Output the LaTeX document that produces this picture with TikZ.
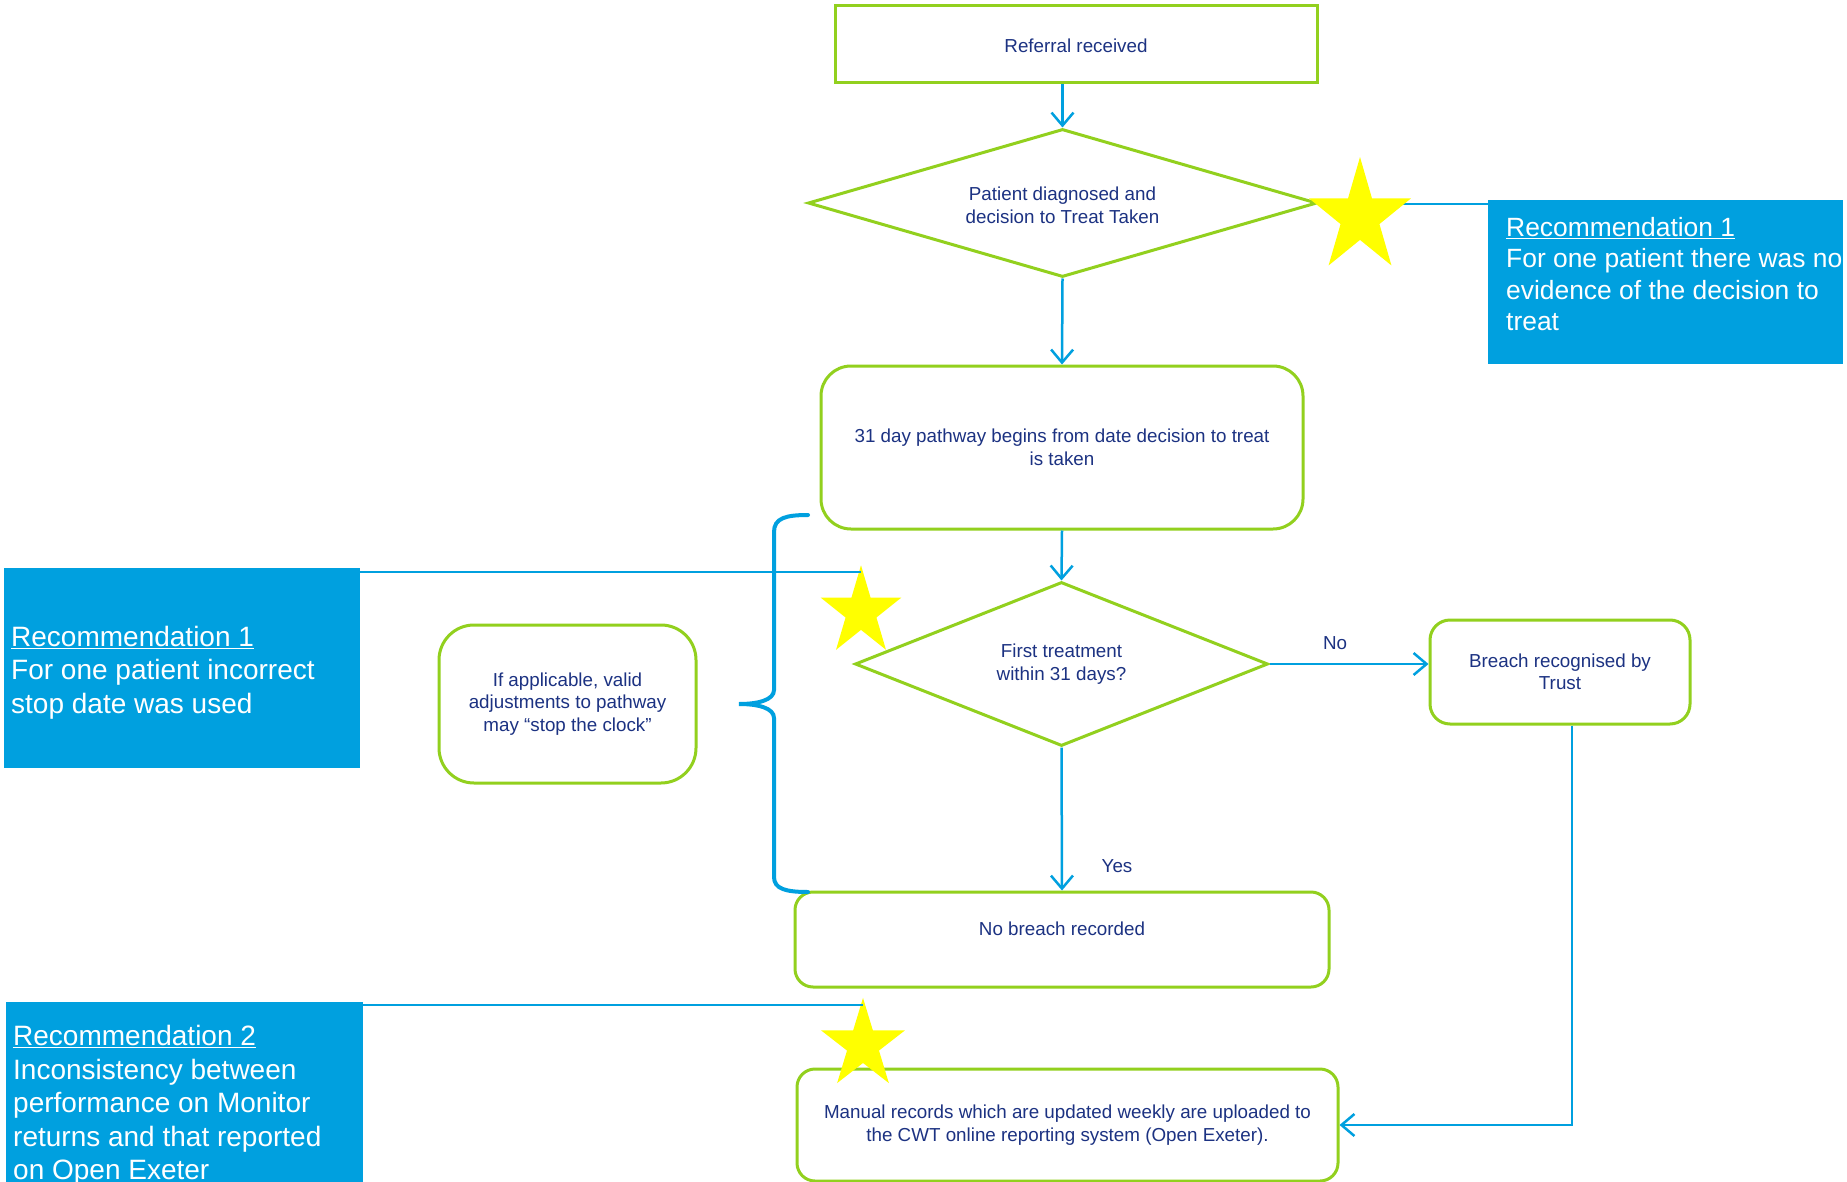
\documentclass[tikz,border=0pt]{standalone}
\usepackage{fontspec}
\setmainfont{Liberation Sans}
\usetikzlibrary{shapes.geometric,arrows.meta}
\definecolor{flowgreen}{RGB}{146,208,30}
\definecolor{recblue}{RGB}{0,160,223}
\definecolor{navy}{RGB}{28,50,130}
\definecolor{staryellow}{RGB}{255,255,0}
\tikzset{
  flowtext/.style={text=navy, font=\fontsize{18.8}{22.5}\selectfont, align=center},
  flowbox/.style={draw=flowgreen, line width=3pt, flowtext, inner sep=0pt, rectangle},
  roundbox/.style={flowbox, rounded corners=#1},
  decision/.style={diamond, draw=flowgreen, line width=3pt, flowtext, inner sep=0pt},
  recbox/.style={fill=recblue, draw=none, inner sep=0pt, rectangle},
  rectext/.style={text=white, align=left, inner sep=0pt, anchor=north west},
  conn/.style={draw=recblue, line width=2.5pt, -{Straight Barb[length=13pt,width=22pt]}},
  recline/.style={draw=recblue, line width=2.5pt},
  starmark/.style={star, star points=5, star point ratio=2.618, fill=staryellow, draw=none, inner sep=0pt, minimum size=#1, transform shape},
}
\begin{document}
\begin{tikzpicture}[x=1pt,y=1pt]
\clip (0,0) rectangle (1847,-1182);
\fill[white] (0,0) rectangle (1847,-1182);

% flow nodes
\node[flowbox, minimum width=482, minimum height=77,
      label={[flowtext, yshift=-1.5pt]center:Referral received}] (ref) at (1076,-44.5) {};
\node[decision, aspect=3.44, minimum width=509, minimum height=148,
      label={[flowtext, yshift=-2.5pt]center:Patient diagnosed and\\decision to Treat Taken}] (d1) at (1062.5,-203) {};
\node[roundbox=30pt, minimum width=482, minimum height=163] (box31) at (1062,-447.5) {31 day pathway begins from date decision to treat\\is taken};
\node[decision, aspect=2.52, minimum width=413, minimum height=164] (d2) at (1061.5,-664) {First treatment\\within 31 days?};
\node[roundbox=20pt, minimum width=260, minimum height=104] (breach) at (1560,-672) {Breach recognised by\\Trust};
\node[roundbox=35pt, minimum width=257, minimum height=158] (stop) at (567.5,-704) {If applicable, valid\\adjustments to pathway\\may “stop the clock”};
\node[roundbox=18pt, minimum width=534, minimum height=95,
      label={[flowtext, yshift=11pt]center:No breach recorded}] (nobreach) at (1062,-939.5) {};
\node[roundbox=18pt, minimum width=541, minimum height=112] (manual) at (1067.5,-1125) {Manual records which are updated weekly are uploaded to\\the CWT online reporting system (Open Exeter).};

% recommendation boxes
\node[recbox, minimum width=355, minimum height=164] (recR) at (1665.5,-282) {};
\node[recbox, minimum width=356, minimum height=200] (recL) at (182,-668) {};
\node[recbox, minimum width=357, minimum height=198] (recB) at (184.5,-1101) {};

\node[rectext, font=\fontsize{26.4}{31.5}\selectfont] (recRt) at (1506,-217)
  {\underline{Recommendation 1}\\For one patient there was no\\evidence of the decision to\\treat};
\node[rectext, font=\fontsize{28}{33.5}\selectfont] (recLt) at (11,-626)
  {\underline{Recommendation 1}\\For one patient incorrect\\stop date was used};
\node[rectext, font=\fontsize{28}{33.6}\selectfont] (recBt) at (13,-1025)
  {\underline{Recommendation 2}\\Inconsistency between\\performance on Monitor\\returns and that reported\\on Open Exeter};

% connectors
\draw[conn] (ref.south -| d1.north) -- (d1.north);
\draw[conn] (d1.south) -- (box31.north);
\draw[conn] (box31.south) -- (d2.north);
\draw[conn] (d2.east) -- (d2.east -| breach.west);
\draw[conn] (d2.south) -- (nobreach.north);
\draw[conn] ([xshift=12pt]breach.south) |- (manual.east);
\node[flowtext, inner sep=0pt] (nolab) at (1335,-643) {No};
\node[flowtext, inner sep=0pt] (yeslab) at (1117,-866) {Yes};

% bracket
\draw[recblue, line width=4pt, line cap=round]
  (808,-515) .. controls (786,-515) and (774,-518) .. (774,-532)
  -- (774,-690) .. controls (774,-700) and (758,-704) .. (739,-704)
  .. controls (758,-704) and (774,-708) .. (774,-718)
  -- (774,-877) .. controls (774,-889) and (786,-892) .. (808,-892);

% lines from recommendation boxes
\draw[recline] ([yshift=-1pt]d1.east) -- ([yshift=-1pt]d1.east -| recR.west);

% stars
\begin{scope}[shift={(1360,-217)}, yscale=1.12]
  \node[starmark=107pt] (s1) at (0,0) {};
\end{scope}
\begin{scope}[shift={(861,-612)}, yscale=1.1]
  \node[starmark=85pt] (s2) at (0,0) {};
\end{scope}
\begin{scope}[shift={(863,-1045)}, yscale=1.07]
  \node[starmark=88pt] (s3) at (0,0) {};
\end{scope}
\draw[recline] ([yshift=-4pt]recL.north east) -- ([yshift=-4pt]recL.north east -| s2.outer point 1);
\draw[recline] ([yshift=-3pt]recB.north east) -- ([yshift=-3pt]recB.north east -| s3.outer point 1);
\end{tikzpicture}
\end{document}
